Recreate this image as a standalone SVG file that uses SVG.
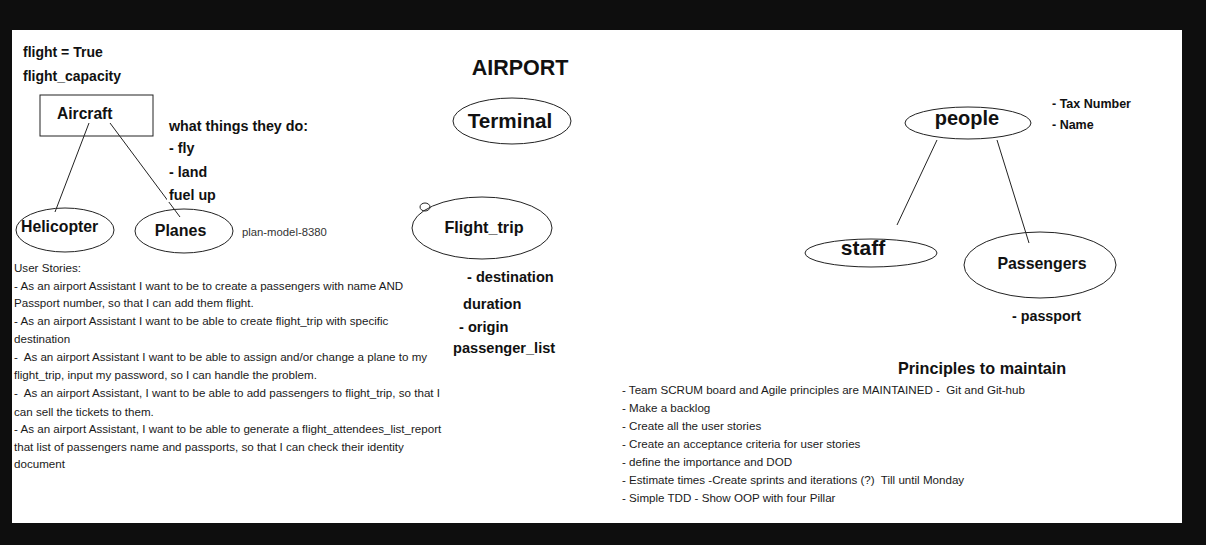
<svg xmlns="http://www.w3.org/2000/svg" width="1206" height="545" viewBox="0 0 1206 545">
<style>
text{font-family:"Liberation Sans",Arial,sans-serif;fill:#111;white-space:pre}
.b{font-weight:bold}
.sh{fill:none;stroke:#222;stroke-width:1}
.ln{stroke:#222;stroke-width:1;fill:none}
.s{font-size:11.6px;fill:#1a1a1a}
.m{font-size:14.3px;font-weight:bold}
.c{text-anchor:middle}
</style>
<rect x="0" y="0" width="1206" height="545" fill="#0e0e0e"/>
<rect x="12" y="30" width="1170" height="493" fill="#fff"/>

<g id="connectors">
<line class="ln" x1="89" y1="123" x2="55" y2="212"/>
<line class="ln" x1="110" y1="123" x2="180" y2="217"/>
<line class="ln" x1="937" y1="140" x2="897" y2="225"/>
<line class="ln" x1="997" y1="140" x2="1029" y2="243"/>
</g>

<g id="notes-top-left">
<text class="m" x="23" y="57" style="font-size:14px">flight = True</text>
<text class="m" x="23" y="81" style="font-size:14px">flight_capacity</text>
</g>

<g id="aircraft">
<rect class="sh" x="40" y="95" width="113" height="41"/>
<text class="b" x="57" y="119" style="font-size:15.6px">Aircraft</text>
</g>

<g id="actions">
<text class="m" x="169" y="131">what things they do:</text>
<text class="m" x="169" y="153">- fly</text>
<text class="m" x="169" y="177">- land</text>
<rect x="167" y="188" width="50" height="14" fill="#fff"/>
<text class="m" x="169" y="200">fuel up</text>
</g>

<g id="helicopter">
<ellipse class="sh" cx="65" cy="230" rx="49" ry="22"/>
<text class="b" x="21" y="232" style="font-size:15.8px">Helicopter</text>
</g>

<g id="planes">
<ellipse class="sh" cx="184" cy="231" rx="49" ry="22"/>
<text class="b c" x="180.5" y="236" style="font-size:16px">Planes</text>
<text x="242" y="236" style="font-size:11.3px;fill:#333">plan-model-8380</text>
</g>

<g id="title">
<text class="b c" x="520" y="75" style="font-size:21.5px">AIRPORT</text>
</g>

<g id="terminal">
<ellipse class="sh" cx="512" cy="121" rx="59" ry="23"/>
<text class="b c" x="510" y="128" style="font-size:20.7px">Terminal</text>
</g>

<g id="flight-trip">
<ellipse class="sh" cx="482" cy="228" rx="70" ry="31"/>
<ellipse class="sh" cx="425" cy="207" rx="5" ry="4"/>
<text class="b c" x="484" y="233" style="font-size:16.2px">Flight_trip</text>
<text class="m" x="467" y="282" style="font-size:14.6px">- destination</text>
<text class="m" x="463" y="309" style="font-size:14.6px">duration</text>
<text class="m" x="459" y="332" style="font-size:14.6px">- origin</text>
<text class="m" x="453" y="353" style="font-size:14.6px">passenger_list</text>
</g>

<g id="user-stories">
<text class="s" x="14" y="272">User Stories:</text>
<text class="s" x="14" y="290">- As an airport Assistant I want to be to create a passengers with name AND</text>
<text class="s" x="14" y="307">Passport number, so that I can add them flight.</text>
<text class="s" x="14" y="325">- As an airport Assistant I want to be able to create flight_trip with specific</text>
<text class="s" x="14" y="343">destination</text>
<text class="s" x="14" y="361">-  As an airport Assistant I want to be able to assign and/or change a plane to my</text>
<text class="s" x="14" y="379">flight_trip, input my password, so I can handle the problem.</text>
<text class="s" x="14" y="397">-  As an airport Assistant, I want to be able to add passengers to flight_trip, so that I</text>
<text class="s" x="14" y="416">can sell the tickets to them.</text>
<text class="s" x="14" y="433">- As an airport Assistant, I want to be able to generate a flight_attendees_list_report</text>
<text class="s" x="14" y="451">that list of passengers name and passports, so that I can check their identity</text>
<text class="s" x="14" y="468">document</text>
</g>

<g id="people">
<ellipse class="sh" cx="968" cy="123" rx="63" ry="16"/>
<text class="b c" x="967" y="125" style="font-size:20px">people</text>
<text class="b" x="1052" y="108" style="font-size:12.5px">- Tax Number</text>
<text class="b" x="1052" y="129" style="font-size:12.5px">- Name</text>
</g>

<g id="staff">
<ellipse class="sh" cx="871" cy="253" rx="66" ry="14"/>
<text class="b c" x="863" y="255" style="font-size:21px">staff</text>
</g>

<g id="passengers">
<ellipse class="sh" cx="1040" cy="265" rx="76" ry="33"/>
<text class="b c" x="1042" y="269" style="font-size:15.9px">Passengers</text>
<text class="m" x="1012" y="321">- passport</text>
</g>

<g id="principles">
<text class="b" x="898" y="374" style="font-size:16.2px">Principles to maintain</text>
<text class="s" x="622" y="394">- Team SCRUM board and Agile principles are MAINTAINED -  Git and Git-hub</text>
<text class="s" x="622" y="412">- Make a backlog</text>
<text class="s" x="622" y="430">- Create all the user stories</text>
<text class="s" x="622" y="448">- Create an acceptance criteria for user stories</text>
<text class="s" x="622" y="466">- define the importance and DOD</text>
<text class="s" x="622" y="484">- Estimate times -Create sprints and iterations (?)  Till until Monday</text>
<text class="s" x="622" y="502">- Simple TDD - Show OOP with four Pillar</text>
</g>
</svg>
